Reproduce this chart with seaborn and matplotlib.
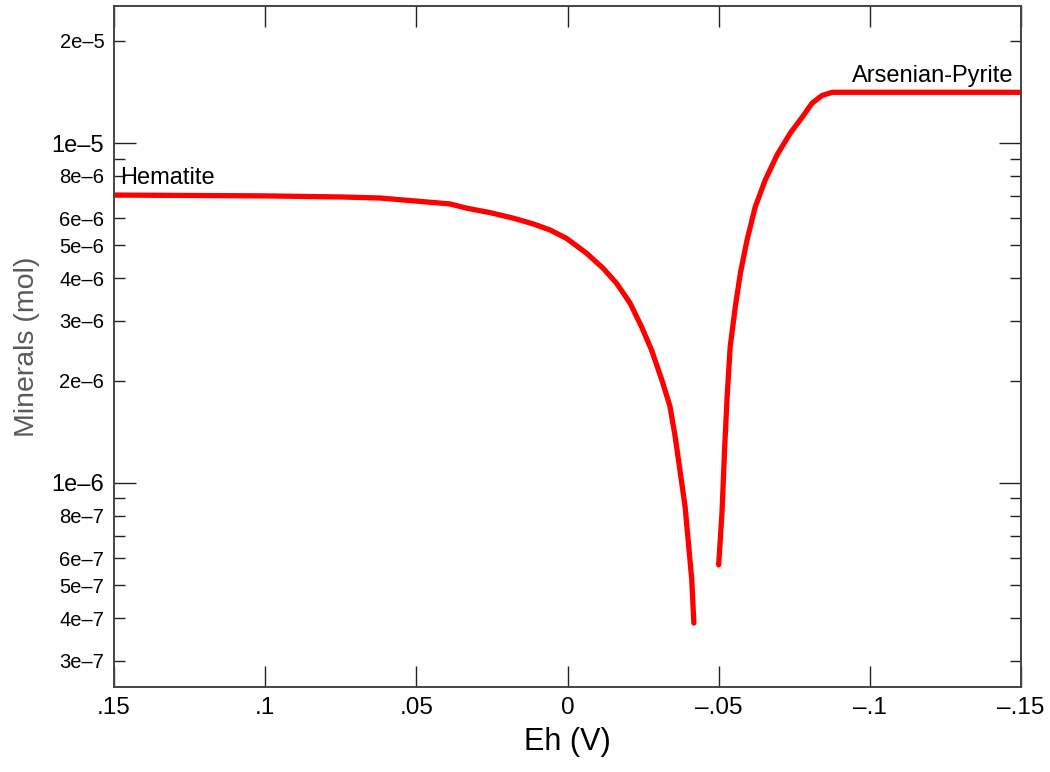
import numpy as np
import pandas as pd
import matplotlib
matplotlib.use("Agg")
import matplotlib.pyplot as plt
import matplotlib.ticker as mticker
import seaborn as sns

# ---- data ----
hematite_eh = [0.15, 0.10, 0.075, 0.062, 0.0389, 0.0333, 0.0256, 0.0179, 0.0113,
               0.0058, 0.0003, -0.0063, -0.0118, -0.0163, -0.0207, -0.0245, -0.0278,
               -0.0312, -0.0339, -0.0356, -0.0372, -0.0389, -0.0400, -0.0411, -0.0418]
hematite_mol = [7.03e-6, 6.99e-6, 6.94e-6, 6.89e-6, 6.62e-6, 6.43e-6, 6.24e-6, 6.01e-6,
                5.78e-6, 5.55e-6, 5.24e-6, 4.74e-6, 4.28e-6, 3.86e-6, 3.38e-6, 2.88e-6,
                2.46e-6, 2.01e-6, 1.68e-6, 1.37e-6, 1.09e-6, 8.51e-7, 6.65e-7, 5.19e-7,
                3.87e-7]
pyrite_eh = [-0.0500, -0.0511, -0.0520, -0.0528, -0.0538, -0.0555, -0.0572, -0.0594,
             -0.0621, -0.0654, -0.0693, -0.0737, -0.0776, -0.0809, -0.0842, -0.0875,
             -0.0908, -0.15]
pyrite_mol = [5.74e-7, 8.17e-7, 1.28e-6, 1.79e-6, 2.51e-6, 3.30e-6, 4.15e-6, 5.19e-6,
              6.49e-6, 7.78e-6, 9.22e-6, 1.07e-5, 1.19e-5, 1.31e-5, 1.38e-5, 1.41e-5,
              1.41e-5, 1.41e-5]

x_ticks = [0.15, 0.1, 0.05, 0.0, -0.05, -0.1, -0.15]
x_labels = [".15", ".1", ".05", "0", "–.05", "–.1", "–.15"]
y_major = [1e-6, 1e-5]
y_major_labels = ["1e–6", "1e–5"]
y_minor = [3e-7, 4e-7, 5e-7, 6e-7, 7e-7, 8e-7, 9e-7,
           2e-6, 3e-6, 4e-6, 5e-6, 6e-6, 7e-6, 8e-6, 9e-6, 2e-5]
y_minor_labels = ["3e–7", "4e–7", "5e–7", "6e–7", "", "8e–7", "",
                  "2e–6", "3e–6", "4e–6", "5e–6", "6e–6", "", "8e–6", "", "2e–5"]

sns.set_theme(style="white")
plt.rcParams["font.family"] = ["Liberation Sans", "DejaVu Sans"]

fig = plt.figure(figsize=(10.5, 7.72), dpi=100)
ax = fig.add_axes([114/1050, 1-687/772, (1021-114)/1050, (687-6)/772])

hem = pd.DataFrame({"Eh": hematite_eh, "mol": hematite_mol})
pyr = pd.DataFrame({"Eh": pyrite_eh, "mol": pyrite_mol})
for df in (hem, pyr):
    sns.lineplot(data=df, x="Eh", y="mol", ax=ax, color="#ff0000", linewidth=3.8,
                 sort=False, estimator=None, solid_capstyle="round",
                 solid_joinstyle="round")

ax.set_yscale("log")
ax.set_xlim(0.15, -0.15)
ax.set_ylim(2.51e-7, 2.53e-5)

ax.xaxis.set_major_locator(mticker.FixedLocator(x_ticks))
ax.xaxis.set_major_formatter(mticker.FixedFormatter(x_labels))
ax.xaxis.set_minor_locator(mticker.NullLocator())
ax.yaxis.set_major_locator(mticker.FixedLocator(y_major))
ax.yaxis.set_major_formatter(mticker.FixedFormatter(y_major_labels))
ax.yaxis.set_minor_locator(mticker.FixedLocator(y_minor))
ax.yaxis.set_minor_formatter(mticker.FixedFormatter(y_minor_labels))

ax.tick_params(axis="x", which="major", direction="in", length=15, width=1.0,
               top=True, bottom=True, labelsize=17.5, pad=7, color="#222222",
               labelcolor="black")
ax.tick_params(axis="y", which="major", direction="in", length=16, width=1.0,
               left=True, right=True, labelsize=17, pad=7, color="#222222",
               labelcolor="black")
ax.tick_params(axis="y", which="minor", direction="in", length=8, width=1.0,
               left=True, right=True, labelsize=14.5, pad=7, color="#222222",
               labelcolor="black")

for s in ax.spines.values():
    s.set_color("#444444")
    s.set_linewidth(1.4)

ax.set_xlabel("Eh (V)", fontsize=22, color="black", labelpad=6)
ax.set_ylabel("Minerals (mol)", fontsize=20.5, color="#595959", labelpad=8)

ax.text(0.148, 7.57e-6, "Hematite", fontsize=17, ha="left", va="baseline", color="black")
ax.text(-0.1474, 1.512e-5, "Arsenian-Pyrite", fontsize=17, ha="right", va="baseline",
        color="black")

fig.savefig("out.png", dpi=100)
